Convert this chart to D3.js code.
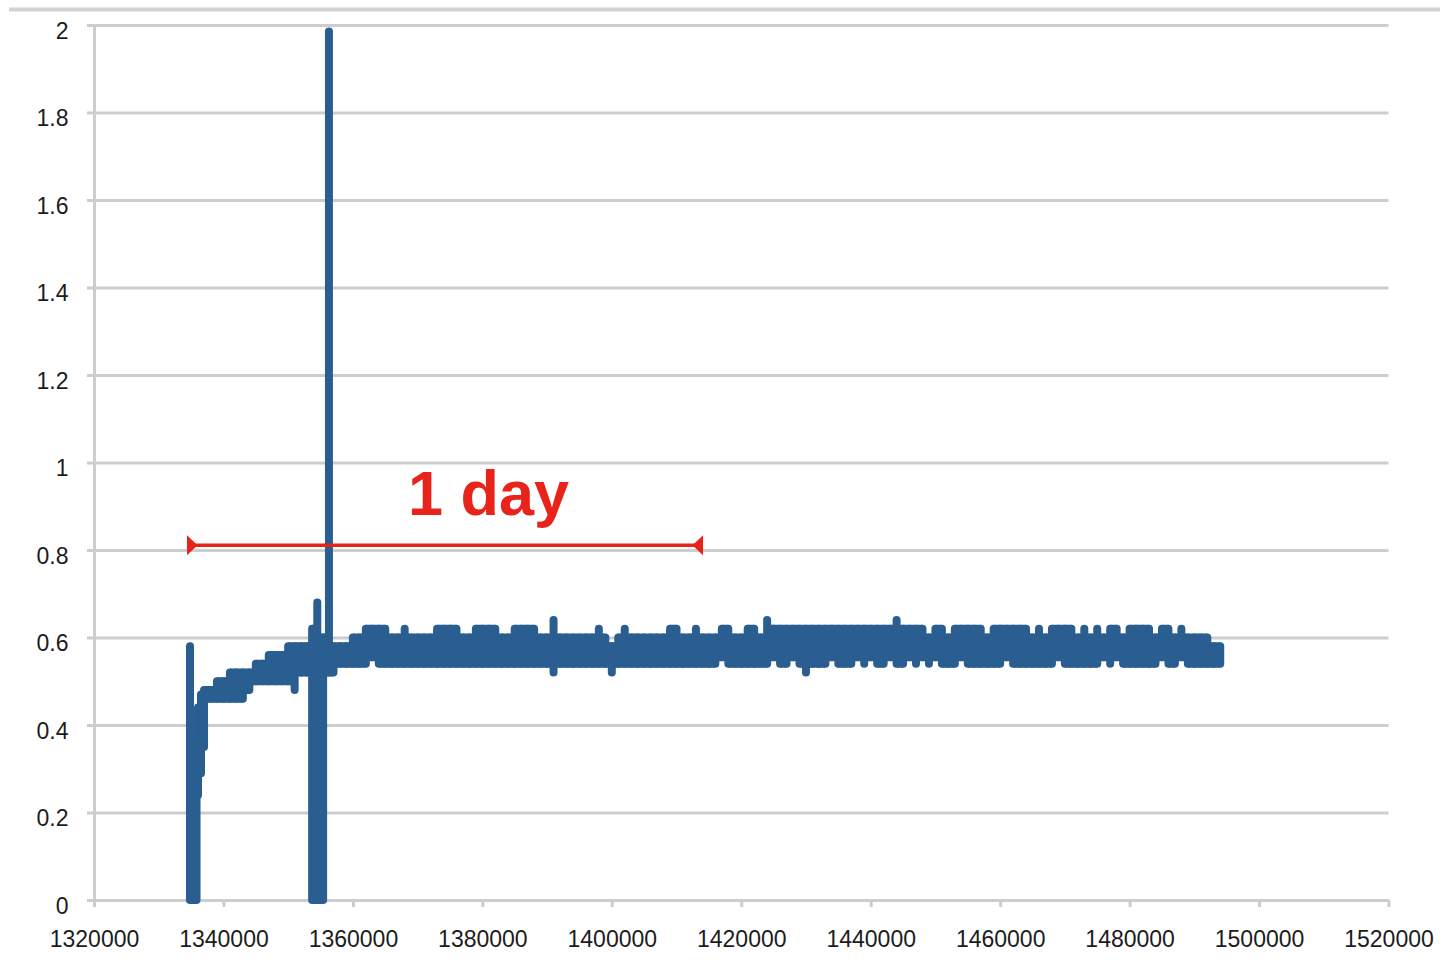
<!DOCTYPE html>
<html><head><meta charset="utf-8">
<script src="https://cdn.jsdelivr.net/npm/d3@7"></script>
<style>body{margin:0;background:#fff} svg{display:block}</style>
</head><body>
<svg id="c" width="1449" height="967"></svg>
<script>
// ---- tick values / labels ----
const xTicks = [1320000,1340000,1360000,1380000,1400000,1420000,1440000,1460000,1480000,1500000,1520000];
const xTickLabels = ["1320000","1340000","1360000","1380000","1400000","1420000","1440000","1460000","1480000","1500000","1520000"];
const yTicks = [0,0.2,0.4,0.6,0.8,1,1.2,1.4,1.6,1.8,2];
const yTickLabels = ["0","0.2","0.4","0.6","0.8","1","1.2","1.4","1.6","1.8","2"];

// ---- series: dense line summarised per sample group (x, min, max) ----
const binX = [
 1334830,1335840,1336070,1336530,1337000,1337500,
 1338000,1339000,1340000,1341000,1342000,1343000,1344000,1345000,1346000,1347000,
 1348000,1349000,1350000,1351000,1352000,1352900,1353700,1354500,1355400,1356300,
 1357000,1358000,1359000,1360000,1361000,1362000,1363000,1364000,1365000,1366000,
 1367000,1368000,1369000,1370000,1371000,1372000,1373000,1374000,1375000,1376000,
 1377000,1378000,1379000,1380000,1381000,1382000,1383000,1384000,1385000,1386000,
 1387000,1388000,1389000,1390000,1391000,1392000,1393000,1394000,1395000,1396000,
 1397000,1398000,1399000,1400000,1401000,1402000,1403000,1404000,1405000,1406000,
 1407000,1408000,1409000,1410000,1411000,1412000,1413000,1414000,1415000,1416000,
 1417000,1418000,1419000,1420000,1421000,1422000,1423000,1424000,1425000,1426000,
 1427000,1428000,1429000,1430000,1431000,1432000,1433000,1434000,1435000,1436000,
 1437000,1438000,1439000,1440000,1441000,1442000,1443000,1444000,1445000,1446000,
 1447000,1448000,1449000,1450000,1451000,1452000,1453000,1454000,1455000,1456000,
 1457000,1458000,1459000,1460000,1461000,1462000,1463000,1464000,1465000,1466000,
 1467000,1468000,1469000,1470000,1471000,1472000,1473000,1474000,1475000,1476000,
 1477000,1478000,1479000,1480000,1481000,1482000,1483000,1484000,1485000,1486000,
 1487000,1488000,1489000,1490000,1491000,1492000,1493000,1494000
];
const binLow = [
 0,0,0.24,0.29,0.35,0.46,
 0.46,0.46,0.46,0.46,0.46,0.46,0.48,0.50,0.50,0.50,
 0.50,0.50,0.50,0.48,0.52,0.52,0,0,0,0.52,
 0.52,0.54,0.54,0.54,0.54,0.54,0.555,0.54,0.54,0.54,
 0.54,0.54,0.54,0.54,0.54,0.54,0.54,0.54,0.54,0.54,
 0.54,0.54,0.54,0.54,0.54,0.54,0.54,0.54,0.54,0.54,
 0.54,0.54,0.54,0.54,0.52,0.54,0.54,0.54,0.54,0.54,
 0.54,0.54,0.54,0.52,0.54,0.54,0.54,0.54,0.54,0.54,
 0.54,0.54,0.54,0.54,0.54,0.54,0.54,0.54,0.54,0.54,
 0.555,0.54,0.54,0.54,0.54,0.54,0.54,0.54,0.555,0.54,
 0.54,0.555,0.54,0.52,0.54,0.54,0.54,0.555,0.54,0.54,
 0.54,0.555,0.54,0.555,0.54,0.54,0.555,0.54,0.54,0.555,
 0.54,0.555,0.54,0.555,0.54,0.54,0.54,0.555,0.54,0.54,
 0.54,0.54,0.54,0.54,0.555,0.54,0.54,0.54,0.54,0.54,
 0.54,0.54,0.555,0.54,0.54,0.54,0.54,0.54,0.54,0.555,
 0.54,0.555,0.54,0.54,0.54,0.54,0.54,0.54,0.555,0.54,
 0.54,0.555,0.54,0.54,0.54,0.54,0.54,0.54
];
const binHigh = [
 0.58,0.36,0.44,0.47,0.48,0.48,
 0.48,0.50,0.50,0.52,0.52,0.52,0.52,0.54,0.54,0.56,
 0.56,0.56,0.58,0.58,0.58,0.58,0.62,0.68,0.60,1.985,
 0.58,0.58,0.58,0.60,0.60,0.62,0.62,0.62,0.62,0.60,
 0.60,0.62,0.60,0.60,0.60,0.60,0.62,0.62,0.62,0.62,
 0.60,0.60,0.62,0.62,0.62,0.62,0.60,0.60,0.62,0.62,
 0.62,0.62,0.60,0.60,0.64,0.60,0.60,0.60,0.60,0.60,
 0.60,0.62,0.60,0.58,0.60,0.62,0.60,0.60,0.60,0.60,
 0.60,0.60,0.62,0.62,0.60,0.60,0.62,0.60,0.60,0.60,
 0.62,0.62,0.60,0.60,0.62,0.62,0.60,0.64,0.62,0.62,
 0.62,0.62,0.62,0.62,0.62,0.62,0.62,0.62,0.62,0.62,
 0.62,0.62,0.62,0.62,0.62,0.62,0.62,0.64,0.62,0.62,
 0.62,0.62,0.60,0.62,0.62,0.60,0.62,0.62,0.62,0.62,
 0.62,0.60,0.62,0.62,0.62,0.62,0.62,0.62,0.60,0.62,
 0.60,0.62,0.62,0.62,0.62,0.60,0.62,0.60,0.62,0.60,
 0.62,0.62,0.60,0.62,0.62,0.62,0.62,0.60,0.62,0.62,
 0.60,0.62,0.60,0.60,0.60,0.60,0.58,0.58
];

// ---- annotation ----
const annotationText = "1 day";
const annotationFrom = 1334370;
const annotationTo = 1414090;
const annotationY = 0.811;
const annotationTextX = 1368500;
const annotationTextY = 0.879;

const svg = d3.select("#c");
const x = d3.scaleLinear().domain([1320000,1520000]).range([94,1388.5]);
const y = d3.scaleLinear().domain([0,2]).range([900,25]);
const gridColor = "#cdcdcd";
const blue = "#2a5e91";
const SW = 8; // line width in px

// frame line at top
svg.append("line").attr("x1",9).attr("x2",1440).attr("y1",9.5).attr("y2",9.5)
  .attr("stroke","#d2d2d2").attr("stroke-width",4);

// y axis with gridlines
const yAxis = d3.axisLeft(y).tickValues(yTicks).tickFormat((d,i)=>yTickLabels[i])
  .tickSize(-(x(1520000)-x(1320000))).tickSizeOuter(0).tickPadding(0);
const gy = svg.append("g").attr("transform",`translate(${x(1320000)},0)`).call(yAxis);
gy.select(".domain").attr("stroke",gridColor).attr("stroke-width",3);
gy.selectAll(".tick line").attr("stroke",gridColor).attr("stroke-width",3).attr("x1",-7);
gy.selectAll(".tick text").attr("x",-25.5).attr("dy","13px")
  .attr("font-family","'Liberation Sans', Arial, sans-serif").attr("font-size",23)
  .attr("fill","#1c1c1c").attr("text-anchor","end");

// x axis
const xAxis = d3.axisBottom(x).tickValues(xTicks).tickFormat((d,i)=>xTickLabels[i])
  .tickSize(7).tickSizeOuter(0).tickPadding(0);
const gx = svg.append("g").attr("transform",`translate(0,${y(0)})`).call(xAxis);
gx.select(".domain").attr("stroke",gridColor).attr("stroke-width",3);
gx.selectAll(".tick line").attr("stroke",gridColor).attr("stroke-width",3);
gx.selectAll(".tick text").attr("y",47).attr("dy",0)
  .attr("font-family","'Liberation Sans', Arial, sans-serif").attr("font-size",23)
  .attr("fill","#1c1c1c");

// series
const n = binX.length;
const gs = svg.append("g");
// solid fill between neighbouring groups over their shared range
const fills = [];
for (let i=0;i<n-1;i++){
  const a = Math.max(binLow[i],binLow[i+1]);
  const b = Math.min(binHigh[i],binHigh[i+1]);
  if (a<=b) fills.push({x0:binX[i],x1:binX[i+1],lo:a,hi:b});
}
gs.selectAll("rect").data(fills).join("rect")
  .attr("x",d=>x(d.x0)).attr("width",d=>x(d.x1)-x(d.x0))
  .attr("y",d=>y(d.hi)-SW/2).attr("height",d=>y(d.lo)-y(d.hi)+SW)
  .attr("fill",blue);
// each group: vertical sweep from its min to its max (round caps give the line ends)
const line = d3.line().x(d=>x(d[0])).y(d=>y(d[1]));
const segs = binX.map((bx,i)=>[[bx,binLow[i]],[bx,binHigh[i]]]);
gs.selectAll("path").data(segs).join("path")
  .attr("d",d=>line(d)).attr("fill","none")
  .attr("stroke",blue).attr("stroke-width",SW)
  .attr("stroke-linecap","round");

// annotation
const red = "#e8231a";
const ax1 = x(annotationFrom), ax2 = x(annotationTo), ay = y(annotationY);
svg.append("line").attr("x1",ax1).attr("x2",ax2).attr("y1",ay).attr("y2",ay)
  .attr("stroke",red).attr("stroke-width",3.5);
svg.append("path").attr("d",`M${ax1},${ay-10}L${ax1+10.5},${ay}L${ax1},${ay+10}Z`).attr("fill",red);
svg.append("path").attr("d",`M${ax2},${ay-10}L${ax2-10.5},${ay}L${ax2},${ay+10}Z`).attr("fill",red);
svg.append("text").attr("x",x(annotationTextX)).attr("y",y(annotationTextY))
  .attr("font-family","'Liberation Sans', Arial, sans-serif").attr("font-size",63)
  .attr("font-weight","bold").attr("fill",red).text(annotationText);
</script>
</body></html>
